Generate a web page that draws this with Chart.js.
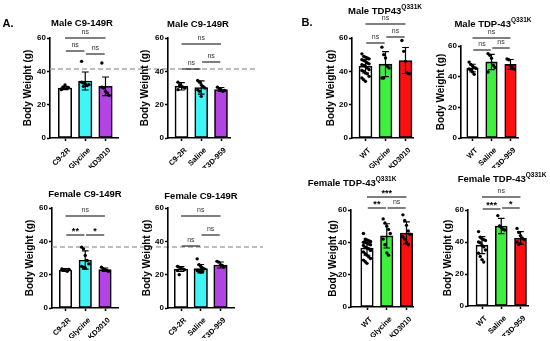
<!DOCTYPE html>
<html>
<head>
<meta charset="utf-8">
<script src="https://cdn.jsdelivr.net/npm/chart.js@4.4.1/dist/chart.umd.min.js"></script>
<style>
  body { margin: 0; background: #fff; }
  #fig { position: relative; width: 550px; height: 341px; overflow: hidden; font-family: 'Liberation Sans', Arial, sans-serif; }
  #fig canvas { position: absolute; }
  .ttl { position: absolute; transform: translate(-50%, -50%); white-space: nowrap; font-weight: bold; font-size: 9.5px; color: #000; }
  .ttl sup { font-size: 6.5px; vertical-align: top; position: relative; top: -2px; }
  .lab { position: absolute; transform: translate(-50%, -50%); font-weight: bold; font-size: 11px; }
</style>
</head>
<body>
<div id="fig"></div>
<script>
// ---- categories ----
const c9KdGroups = ['C9-2R', 'Glycine', 'KD3010'];
const c9T3dGroups = ['C9-2R', 'Saline', 'T3D-959'];
const tdpKdGroups = ['WT', 'Glycine', 'KD3010'];
const tdpT3dGroups = ['WT', 'Saline', 'T3D-959'];

// ---- male C9-149R, KD3010 ----
const maleC9KdMeans = [30.0, 34.2, 31.0];
const maleC9KdSd = [1.0, 5.4, 5.6];
const maleC9KdPoints = [
  [29.5, 30.5, 31.8, 29.8, 30.2, 29.0],
  [46, 33, 32.5, 31.5, 32, 33.5, 31],
  [45, 30, 28, 27, 25.5, 30.5]
];
const maleC9KdSig = ['ns', 'ns', 'ns'];
const maleC9KdSigY = [60, 52.2, 50.4];

// ---- male C9-149R, T3D-959 ----
const maleC9T3dMeans = [31.0, 30.3, 29.1];
const maleC9T3dSd = [2.2, 4.0, 1.2];
const maleC9T3dPoints = [
  [33.5, 32, 31, 30.5, 30, 29, 31],
  [34.5, 33.5, 32, 31, 30, 29, 28, 25],
  [30.5, 29.5, 29, 28, 28.5]
];
const maleC9T3dSig = ['ns', 'ns', 'ns'];
const maleC9T3dSigY = [56.4, 41.4, 45.6];

// ---- male TDP43 Q331K, KD3010 ----
const maleTdpKdMeans = [43.0, 44.3, 46.5];
const maleTdpKdSd = [4.0, 7.5, 7.8];
const maleTdpKdPoints = [
  [50.5, 49, 48.5, 48, 47.5, 47, 46.5, 46, 45, 44.5, 44, 43.5, 43, 42, 41, 40.5, 40, 39, 38.5, 37, 36, 35, 34],
  [54.5, 50, 48, 43, 42, 36, 36],
  [58.5, 52, 46, 39, 38.5]
];
const maleTdpKdSig = ['ns', 'ns', 'ns'];
const maleTdpKdSigY = [68.4, 57, 60.6];

// ---- male TDP-43 Q331K, T3D-959 ----
const maleTdpT3dMeans = [45.6, 49.6, 48.0];
const maleTdpT3dSd = [2.5, 5.0, 3.2];
const maleTdpT3dPoints = [
  [49.5, 48, 47, 46, 45.5, 45, 44.5, 43, 41.5],
  [55, 54, 52, 47.5, 46, 43],
  [51.5, 51, 47, 46, 45]
];
const maleTdpT3dSig = ['ns', 'ns', 'ns'];
const maleTdpT3dSigY = [65.2, 57.4, 58.7];

// ---- female C9-149R, KD3010 ----
const femaleC9KdMeans = [22.8, 28.8, 23.0];
const femaleC9KdSd = [0.8, 5.5, 1.0];
const femaleC9KdPoints = [
  [23.5, 23, 22.5, 22, 23.2, 22.8],
  [36.5, 35.5, 31.5, 28.5, 26.5, 25, 24.5, 24],
  [24.5, 23.5, 23, 22.5, 22]
];
const femaleC9KdSig = ['ns', '**', '*'];
const femaleC9KdSigY = [55.2, 43.8, 43.8];

// ---- female C9-149R, T3D-959 ----
const femaleC9T3dMeans = [23.4, 23.6, 25.8];
const femaleC9T3dSd = [1.5, 2.5, 1.8];
const femaleC9T3dPoints = [
  [25, 24.5, 24, 23.5, 23, 22.5, 20],
  [29.5, 26, 25, 24, 23.5, 22.5, 22, 21.5, 22],
  [28, 27.5, 26, 25.5, 24.5]
];
const femaleC9T3dSig = ['ns', 'ns', 'ns'];
const femaleC9T3dSigY = [55.2, 37.2, 43.8];

// ---- female TDP-43 Q331K, KD3010 ----
const femaleTdpKdMeans = [36.5, 44.0, 45.8];
const femaleTdpKdSd = [4.5, 7.5, 6.8];
const femaleTdpKdPoints = [
  [45.5, 42, 41.5, 41, 40.5, 40, 40, 39.5, 39, 38.5, 38, 37, 36.5, 36, 35, 34, 33, 32, 31, 30, 29, 28, 27],
  [54.5, 52, 50, 48, 45.5, 42, 38.5, 33.5, 32],
  [57, 53.5, 50.5, 47, 45, 43.5, 42, 40, 38.5]
];
const femaleTdpKdSig = ['***', '**', 'ns'];
const femaleTdpKdSigY = [68, 61.2, 61.2];

// ---- female TDP-43 Q331K, T3D-959 ----
const femaleTdpT3dMeans = [38.0, 50.0, 42.5];
const femaleTdpT3dSd = [5.3, 4.8, 4.0];
const femaleTdpT3dPoints = [
  [46.5, 43, 42, 41.5, 41, 40, 39.5, 38, 37, 35, 33, 31, 29, 27.5],
  [56.5, 50, 49, 48, 47.5],
  [48.5, 46, 44, 42.5, 41.5, 40, 38.5, 39]
];
const femaleTdpT3dSig = ['ns', '***', '*'];
const femaleTdpT3dSigY = [68.1, 60.6, 61.25];

// reference (dashed) levels
const maleRefLevel = 41.4;
const femaleRefLevel = 36.6;

// comparison pairs: top, left, right
const sigPairs = [[0, 2], [0, 1], [1, 2]];

const c9KdColors = ['#ffffff', '#3ff5f5', '#b443e6'];
const c9T3dColors = ['#ffffff', '#3ff5f5', '#b443e6'];
const tdpColors = ['#ffffff', '#3ef03e', '#ff1010'];

const FONT = "'Liberation Sans', Arial, sans-serif";

const panels = [
  { groups: c9KdGroups, colors: c9KdColors, means: maleC9KdMeans, sd: maleC9KdSd, points: maleC9KdPoints, sig: maleC9KdSig, sigY: maleC9KdSigY,
    ref: maleRefLevel, refEnd: 258,
    box: { ax: 50, xr: 118, top: 38, bottom: 138, c0: 65, step: 20.25, bw: 13.5, titleX: 28, ct: 0, ch: 185, cr: 265 } },
  { groups: c9T3dGroups, colors: c9T3dColors, means: maleC9T3dMeans, sd: maleC9T3dSd, points: maleC9T3dPoints, sig: maleC9T3dSig, sigY: maleC9T3dSigY,
    box: { ax: 168, xr: 230, top: 38, bottom: 138, c0: 181.5, step: 19.75, bw: 13, titleX: 145, ct: 0, ch: 185, cr: 245 } },
  { groups: tdpKdGroups, colors: tdpColors, means: maleTdpKdMeans, sd: maleTdpKdSd, points: maleTdpKdPoints, sig: maleTdpKdSig, sigY: maleTdpKdSigY,
    box: { ax: 352, xr: 413, top: 38, bottom: 138, c0: 365.5, step: 20, bw: 13, titleX: 331, ct: 0, ch: 185, cr: 428 } },
  { groups: tdpT3dGroups, colors: tdpColors, means: maleTdpT3dMeans, sd: maleTdpT3dSd, points: maleTdpT3dPoints, sig: maleTdpT3dSig, sigY: maleTdpT3dSigY,
    box: { ax: 461, xr: 518, top: 46, bottom: 138, c0: 472.5, step: 19, bw: 11.5, titleX: 441, ct: 0, ch: 185, cr: 545 } },
  { groups: c9KdGroups, colors: c9KdColors, means: femaleC9KdMeans, sd: femaleC9KdSd, points: femaleC9KdPoints, sig: femaleC9KdSig, sigY: femaleC9KdSigY,
    ref: femaleRefLevel, refEnd: 263,
    box: { ax: 52, xr: 118, top: 208, bottom: 308, c0: 65.5, step: 19.75, bw: 12.5, titleX: 30, ct: 165, ch: 176, cr: 270 } },
  { groups: c9T3dGroups, colors: c9T3dColors, means: femaleC9T3dMeans, sd: femaleC9T3dSd, points: femaleC9T3dPoints, sig: femaleC9T3dSig, sigY: femaleC9T3dSigY,
    box: { ax: 168, xr: 234, top: 208, bottom: 308, c0: 181, step: 19.75, bw: 13.5, titleX: 147, ct: 165, ch: 176, cr: 250 } },
  { groups: tdpKdGroups, colors: tdpColors, means: femaleTdpKdMeans, sd: femaleTdpKdSd, points: femaleTdpKdPoints, sig: femaleTdpKdSig, sigY: femaleTdpKdSigY,
    box: { ax: 351, xr: 413, top: 210, bottom: 307, c0: 367, step: 19.75, bw: 12.5, titleX: 333, ct: 165, ch: 176, cr: 428 } },
  { groups: tdpT3dGroups, colors: tdpColors, means: femaleTdpT3dMeans, sd: femaleTdpT3dSd, points: femaleTdpT3dPoints, sig: femaleTdpT3dSig, sigY: femaleTdpT3dSigY,
    box: { ax: 468, xr: 528, top: 210, bottom: 306, c0: 482, step: 19.25, bw: 12, titleX: 448, ct: 165, ch: 176, cr: 548 } }
];

const titles = [
  { html: 'Male C9-149R', x: 82, y: 22 },
  { html: 'Male C9-149R', x: 198, y: 23 },
  { html: 'Male TDP43<sup>Q331K</sup>', x: 385, y: 10 },
  { html: 'Male TDP-43<sup>Q331K</sup>', x: 493, y: 23 },
  { html: 'Female C9-149R', x: 85, y: 193 },
  { html: 'Female C9-149R', x: 201, y: 195 },
  { html: 'Female TDP-43<sup>Q331K</sup>', x: 352, y: 182 },
  { html: 'Female TDP-43<sup>Q331K</sup>', x: 502, y: 178 }
];

const fig = document.getElementById('fig');

// significance text above bracket lines
const sigLabels = {
  id: 'sigLabels',
  afterDatasetsDraw(chart, args, opts) {
    const { ctx, scales: { x, y } } = chart;
    opts.items.forEach(it => {
      const star = it.text !== 'ns';
      ctx.save();
      ctx.font = star ? 'bold 9px ' + FONT : '7px ' + FONT;
      ctx.fillStyle = star ? '#000' : '#333';
      ctx.textAlign = 'center';
      ctx.textBaseline = 'alphabetic';
      ctx.fillText(it.text, x.getPixelForValue(it.mid), y.getPixelForValue(it.level) - (star ? 1 : 4));
      ctx.restore();
    });
  }
};

function jitter(j) {
  return ((j % 5) - 2) * 0.09;
}

function makePanel(p) {
  const b = p.box;
  const cl = b.titleX - 6;
  const cv = document.createElement('canvas');
  cv.width = b.cr - cl;
  cv.height = b.ch;
  cv.style.left = cl + 'px';
  cv.style.top = b.ct + 'px';
  fig.appendChild(cv);

  const xMin = (b.ax - b.c0) / b.step;
  const xMax = (b.xr - b.c0) / b.step;
  const yAxisW = b.ax - cl;
  const cap = 0.17;

  const errData = [];
  p.means.forEach((m, i) => {
    const hi = m + p.sd[i], lo = m - p.sd[i];
    errData.push({ x: i - cap, y: hi }, { x: i + cap, y: hi }, { x: i, y: null },
                 { x: i, y: hi }, { x: i, y: lo }, { x: i, y: null },
                 { x: i - cap, y: lo }, { x: i + cap, y: lo }, { x: i, y: null });
  });

  const ptData = [];
  p.points.forEach((arr, i) => arr.forEach((v, j) => ptData.push({ x: i + jitter(j), y: v })));

  const brData = [];
  const labelItems = [];
  sigPairs.forEach(([a, c], k) => {
    const inset = k === 0 ? 0 : 0.04;
    brData.push({ x: a + inset, y: p.sigY[k] }, { x: c - inset, y: p.sigY[k] }, { x: c, y: null });
    labelItems.push({ text: p.sig[k], mid: (a + c) / 2, level: p.sigY[k] });
  });

  const datasets = [
    { type: 'bar', data: p.means.map((m, i) => ({ x: i, y: m })), backgroundColor: p.colors,
      borderColor: '#000', borderWidth: 1.6, borderSkipped: false, barThickness: b.bw, order: 5 },
    { type: 'line', data: errData, borderColor: '#000', borderWidth: 1.2, pointRadius: 0, spanGaps: false, clip: false, order: 3 },
    { type: 'scatter', data: ptData, pointRadius: 1.7, pointBackgroundColor: '#000', pointBorderWidth: 0, clip: false, order: 2 },
    { type: 'line', data: brData, borderColor: '#000', borderWidth: 1.1, pointRadius: 0, spanGaps: false, clip: false, order: 1 }
  ];
  if (p.ref !== undefined) {
    datasets.push({ type: 'line', data: [{ x: xMin, y: p.ref }, { x: (p.refEnd - b.c0) / b.step, y: p.ref }],
      borderColor: '#a8a8a8', borderWidth: 1.3, borderDash: [5, 3], pointRadius: 0, clip: false, order: 4 });
  }

  new Chart(cv, {
    type: 'bar',
    data: { datasets },
    plugins: [sigLabels],
    options: {
      responsive: false,
      animation: false,
      events: [],
      layout: { padding: { left: 0, top: b.top - b.ct, right: b.cr - b.xr, bottom: b.ch - 30 - (b.bottom - b.ct) } },
      plugins: { legend: { display: false }, tooltip: { enabled: false }, sigLabels: { items: labelItems } },
      scales: {
        x: {
          type: 'linear', min: xMin, max: xMax, offset: false,
          grid: { display: true, drawOnChartArea: false, drawTicks: true, tickLength: 3, tickWidth: 1.5, color: '#000', offset: false },
          border: { display: true, color: '#000', width: 1.6 },
          afterBuildTicks: s => { s.ticks = p.groups.map((_, i) => ({ value: i })); },
          afterFit: s => { s.height = 30; s.paddingLeft = 0; s.paddingRight = 0; },
          ticks: { autoSkip: false, minRotation: 45, maxRotation: 45, padding: 5, labelOffset: 4, color: '#000',
                   font: { family: FONT, size: 7.5, weight: 'bold' }, callback: v => p.groups[v] }
        },
        y: {
          min: 0, max: 60,
          grid: { display: true, drawOnChartArea: false, drawTicks: true, tickLength: 3, tickWidth: 1.5, color: '#000' },
          border: { display: true, color: '#000', width: 1.6 },
          afterFit: s => { s.width = yAxisW; },
          ticks: { stepSize: 20, padding: 1, color: '#000', font: { family: FONT, size: 8, weight: 'bold' } },
          title: { display: true, text: 'Body Weight (g)', padding: 0, color: '#000', font: { family: FONT, size: 10, weight: 'bold' } }
        }
      }
    }
  });
}

panels.forEach(makePanel);

titles.forEach(t => {
  const d = document.createElement('div');
  d.className = 'ttl';
  d.innerHTML = t.html;
  d.style.left = t.x + 'px';
  d.style.top = t.y + 'px';
  fig.appendChild(d);
});

[['A.', 8, 23], ['B.', 307, 22]].forEach(([txt, x, y]) => {
  const d = document.createElement('div');
  d.className = 'lab';
  d.textContent = txt;
  d.style.left = x + 'px';
  d.style.top = y + 'px';
  fig.appendChild(d);
});
</script>
</body>
</html>
